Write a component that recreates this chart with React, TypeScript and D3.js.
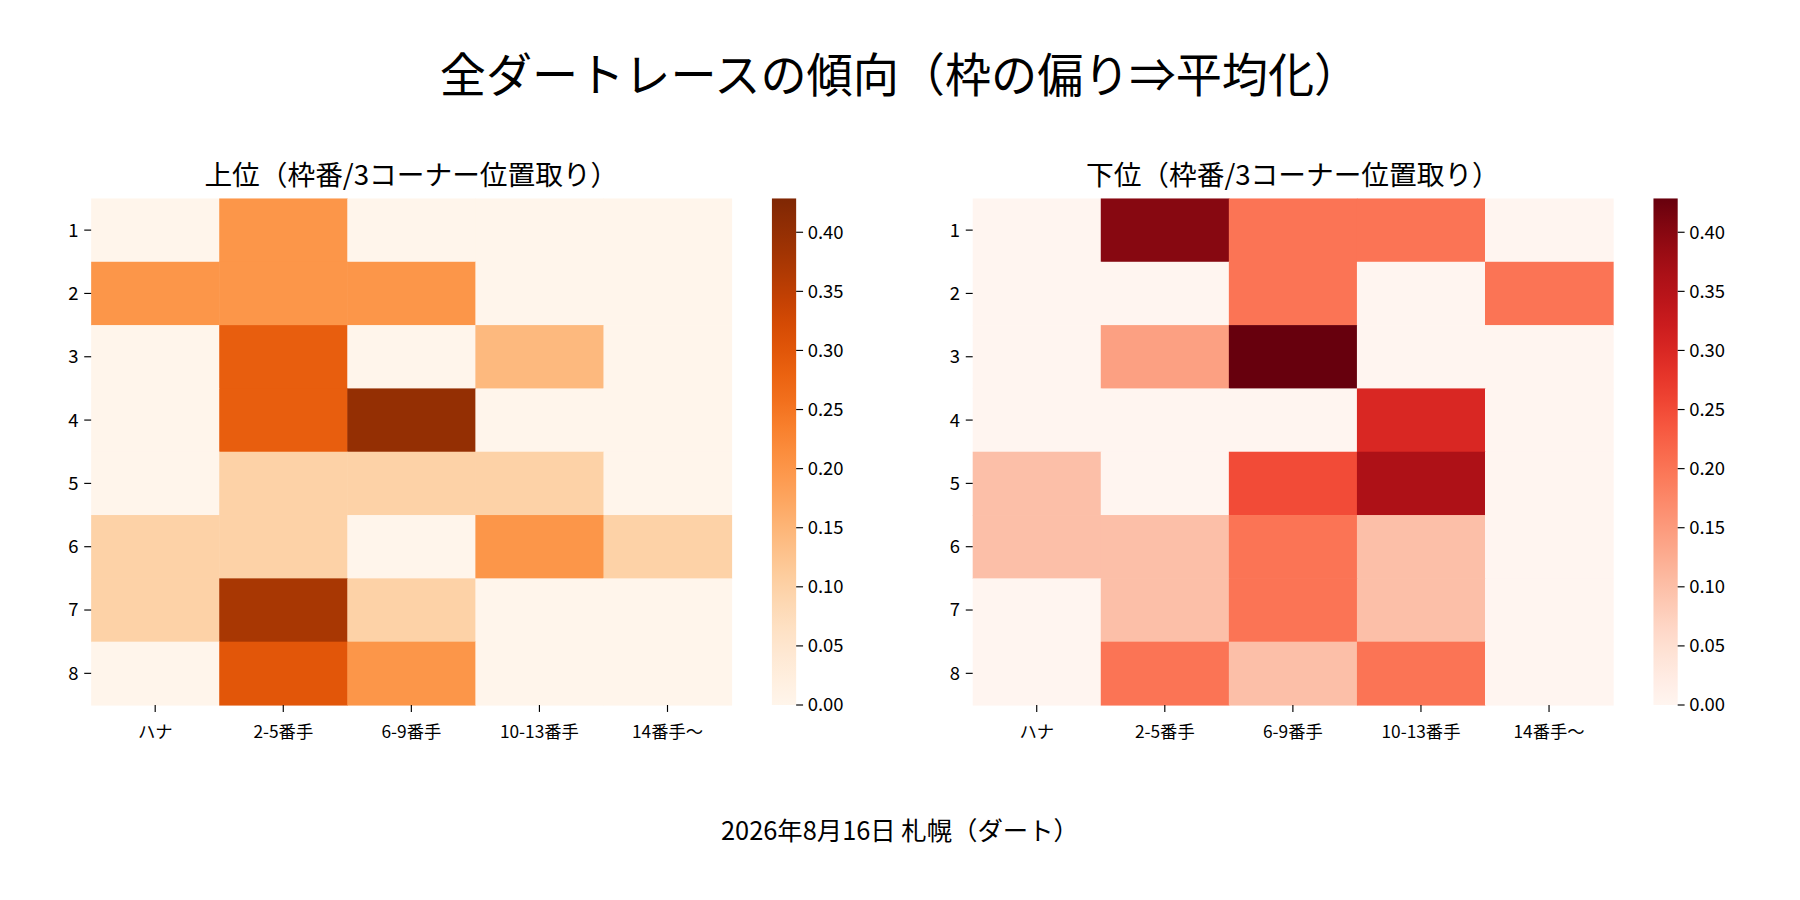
import * as d3 from "d3";
import React, { useEffect } from "react";

const rows = ["1", "2", "3", "4", "5", "6", "7", "8"];
const cols = ["ハナ", "2-5番手", "6-9番手", "10-13番手", "14番手〜"];
const topValues = [
  [0, 0.2, 0, 0, 0],
  [0.2, 0.2, 0.2, 0, 0],
  [0, 0.286, 0, 0.143, 0],
  [0, 0.286, 0.4, 0, 0],
  [0, 0.1, 0.1, 0.1, 0],
  [0.1, 0.1, 0, 0.2, 0.1],
  [0.1, 0.375, 0.1, 0, 0],
  [0, 0.3, 0.2, 0, 0],
];
const bottomValues = [
  [0, 0.4, 0.2, 0.2, 0],
  [0, 0, 0.2, 0, 0.2],
  [0, 0.143, 0.4286, 0, 0],
  [0, 0, 0, 0.3, 0],
  [0.1, 0, 0.25, 0.36, 0],
  [0.1, 0.1, 0.2, 0.1, 0],
  [0, 0.1, 0.2, 0.1, 0],
  [0, 0.2, 0.1, 0.2, 0],
];
const cbTicks = [0, 0.05, 0.1, 0.15, 0.2, 0.25, 0.3, 0.35, 0.4];
const vmax = 0.4286;
const font = "'Noto Sans CJK JP', sans-serif";

function Heatmap({ x0, title, values, interp, id }: any) {
  const w = 555, top = 172, h = 439;
  const x = d3.scaleBand().domain(cols).range([x0, x0 + w]);
  const y = d3.scaleBand().domain(rows).range([top, top + h]);
  const color = (v: number) => interp(v / vmax);
  const cbx = x0 + 590;
  const cy = d3.scaleLinear().domain([0, vmax]).range([top + h, top]);
  const stops = d3.range(0, 1.0001, 0.05);
  return (
    <g fontFamily={font}>
      <text x={x0 + w / 2} y={160} textAnchor="middle" fontSize={24}>{title}</text>
      {values.map((r: number[], i: number) =>
        r.map((v, j) => (
          <rect key={i + "-" + j} x={x(cols[j])} y={y(rows[i])} width={x.bandwidth() + 0.5}
            height={y.bandwidth() + 0.5} fill={color(v)} />
        ))
      )}
      {rows.map(r => (
        <g key={r} transform={`translate(${x0},${y(r)! + y.bandwidth() / 2})`}>
          <line x1={-6} x2={0} stroke="#000" />
          <text x={-11} dy="0.35em" textAnchor="end" fontSize={16}>{r}</text>
        </g>
      ))}
      {cols.map(c => (
        <g key={c} transform={`translate(${x(c)! + x.bandwidth() / 2},${top + h})`}>
          <line y2={6} stroke="#000" />
          <text y={29} textAnchor="middle" fontSize={15}>{c}</text>
        </g>
      ))}
      <defs>
        <linearGradient id={id} x1="0" y1="1" x2="0" y2="0">
          {stops.map(s => <stop key={s} offset={s} stopColor={interp(s)} />)}
        </linearGradient>
      </defs>
      <rect x={cbx} y={top} width={21} height={h} fill={`url(#${id})`} />
      {cbTicks.map(t => (
        <g key={t} transform={`translate(${cbx + 21},${cy(t)})`}>
          <line x2={6} stroke="#000" />
          <text x={10} dy="0.35em" fontSize={16}>{t.toFixed(2)}</text>
        </g>
      ))}
    </g>
  );
}

export default function App() {
  useEffect(() => { document.body.style.margin = "0"; }, []);
  return (
    <svg width={1800} height={900} viewBox="0 0 1560 780" style={{ display: "block", background: "#fff" }}>
      <text x={780} y={80} textAnchor="middle" fontSize={40} fontFamily={font}>
        全ダートレースの傾向（枠の偏り⇒平均化）
      </text>
      <Heatmap x0={79} title="上位（枠番/3コーナー位置取り）" values={topValues} interp={d3.interpolateOranges} id="g1" />
      <Heatmap x0={843} title="下位（枠番/3コーナー位置取り）" values={bottomValues} interp={d3.interpolateReds} id="g2" />
      <text x={780} y={728} textAnchor="middle" fontSize={22} fontFamily={font}>2026年8月16日 札幌（ダート）</text>
    </svg>
  );
}
